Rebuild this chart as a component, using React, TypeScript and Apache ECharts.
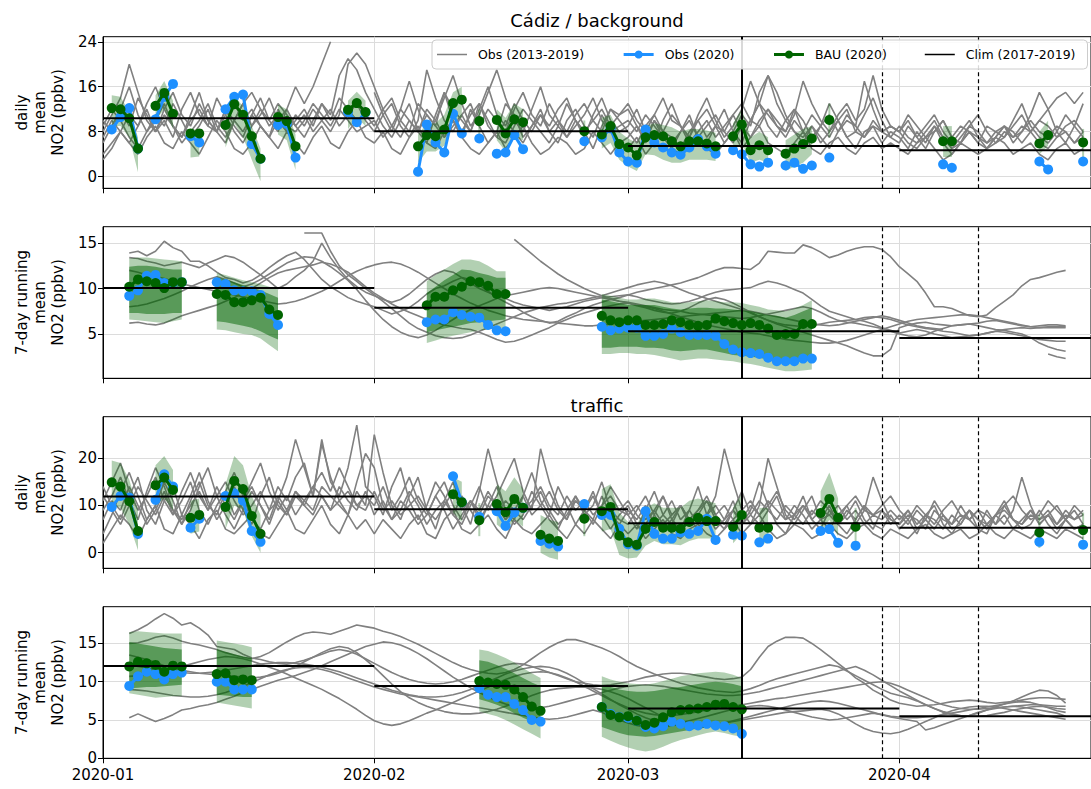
import React, { useEffect, useRef } from 'react';
import * as echarts from 'echarts';

type V = number | null;
const N = 113;
const X_MAX = 112.9;
const MONTH_STARTS = [0, 31, 60, 91];
const MONTH_LABELS = ['2020-01', '2020-02', '2020-03', '2020-04'];
const EVENT_DAYS = [73, 89, 100];

function seg(parts: [number, V[]][]): V[] {
  const a: V[] = new Array(N).fill(null);
  for (const [s, vals] of parts) vals.forEach((v, k) => { if (s + k < N) a[s + k] = v; });
  return a;
}
const n = null;

// ---------- Panel 1: daily, background ----------
const clim1 = [10.4, 8.1, 5.45, 4.7];
const obs1 = seg([
  [1, [8.4, 10.6, 12.2, 5.0]], [6, [10.2, 14.2, 16.5]], [10, [7.2, 6.1]],
  [14, [12.0, 14.2, 14.6, 5.8, 3.2]], [20, [9.2, 9.4, 3.4]], [28, [11.5, 9.7, 11.4]],
  [36, [0.9, 9.3, 6.1, 4.3, 11.2, 7.7]], [43, [6.8]], [45, [4.1, 4.3, 7.4, 4.9]], [55, [6.3]],
  [57, [7.0, 8.6, 4.3, 2.7, 2.5, 8.4, 6.1, 5.2, 4.3, 3.9, 5.2, 6.7, 5.4, 4.1]],
  [72, [4.7, 4.0, 2.2, 1.8, 2.5]], [78, [2.0, 2.5, 1.4, 2.0]], [83, [3.4]],
  [96, [2.2, 1.6]], [107, [2.7, 1.3]], [112, [2.7]],
]);
const bau1 = seg([
  [1, [12.2, 12.0, 10.4, 5.0]], [6, [12.6, 14.9, 11.2]], [10, [7.7, 7.7]],
  [14, [9.2, 12.9, 11.0, 7.2, 3.2]], [20, [10.6, 9.9, 5.4]], [28, [11.9, 13.1, 11.5]],
  [36, [5.4, 7.4, 7.2, 8.4, 13.1, 13.7]], [43, [9.9]], [45, [10.1, 7.7, 10.2, 9.7]], [55, [8.1]],
  [57, [7.5, 9.0, 5.8, 5.2, 3.8, 7.0, 7.4, 7.2, 6.3, 5.4, 6.3, 6.3, 5.9, 5.4]],
  [72, [7.2, 9.3, 4.7, 5.6, 4.7]], [78, [4.1, 5.0, 5.8, 6.8]], [83, [10.1]],
  [96, [6.3, 6.3]], [107, [5.9, 7.4]], [112, [6.1]],
]);
const lo1 = seg([
  [1, [9.0, 9.0, 7.0, 0.8]], [6, [10.0, 12.0, 8.5]], [10, [3.4, 3.6]],
  [14, [5.2, 9.5, 7.0, 3.0, -0.8]], [20, [7.5, 6.5, 1.2]], [28, [8.5, 10.5, 9.0]],
  [36, [2.5, 4.5, 4.5, 5.5, 10.0, 10.5]], [43, [7.5]], [45, [6.5, 4.5, 7.0, 6.5]], [55, [6.0]],
  [57, [5.0, 6.0, 3.0, 1.8, 1.0, 4.0, 3.8, 3.0, 2.5, 2.5, 3.0, 3.0, 3.0, 2.8]],
  [72, [4.5, 6.0, 2.5, 3.0, 2.5]], [78, [1.0, 1.8, 2.5, 4.0]], [83, [7.0]],
  [96, [3.5, 3.5]], [107, [4.0, 5.5]], [112, [3.5]],
]);
const hi1 = seg([
  [1, [14.5, 14.2, 11.5, 7.0]], [6, [14.5, 17.0, 13.5]], [10, [8.5, 8.3]],
  [14, [10.4, 14.5, 12.5, 9.0, 5.0]], [20, [12.8, 12.0, 7.5]], [28, [13.5, 15.1, 13.5]],
  [36, [7.5, 9.5, 9.5, 11.0, 15.0, 16.0]], [43, [12.0]], [45, [12.0, 10.5, 13.0, 12.0]], [55, [10.0]],
  [57, [10.5, 11.0, 8.0, 6.8, 6.0, 9.0, 9.5, 9.2, 8.8, 8.0, 8.5, 8.5, 8.2, 7.8]],
  [72, [9.5, 12.0, 7.0, 8.0, 7.0]], [78, [6.5, 7.5, 8.5, 9.0]], [83, [13.0]],
  [96, [9.0, 9.0]], [107, [8.0, 10.0]], [112, [8.5]],
]);
const g1a = seg([
  [0, [6, 9, 12, 16, 11, 8, 10, 13, 9, 7, 11, 15, 10, 8, 12, 9, 7, 11, 14, 10, 8, 12, 16, 13, 16, 20, 24, n, n, n, n]],
  [31, [15, 11, 8, 12, 17, 12, 8, 10, 14, 18, 13, 9, 11, 15, 19, 14, 10, 8, 12, 16, 11, 9, 13, 10, 7, 11, 14, 10, 8]],
  [60, [9, 12, 8, 6, 10, 13, 9, 7, 11, 14, 10, 7, 9, 12, 17, 13, 9, 7, 10, 12, 8, 6, 9, 13, 10, 7, 8, 11, 14, 10, 7]],
  [91, [6, 9, 7, 5, 8, 10, 7, 6, 9, 11, 8, 6, 7, 10, 13, 9, 7, 6, 8, 11, 9, 7]],
]);
const g1b = seg([
  [0, [4, 6, 8, 11, 9, 13, 16, 12, 9, 7, 10, 12, 9, 14, 11, 8, 6, 9, 12, 10, 13, 11, 9, 7, 10, 13, 11, 18, 21, 19, 15]],
  [31, [12, 9, 7, 10, 13, 8, 6, 11, 15, 10, 7, 12, 9, 6, 8, 13, 11, 7, 9, 12, 8, 6, 10, 12, 9, 7, 11, 8, 6]],
  [60, [7, 9, 6, 10, 7, 5, 8, 11, 7, 6, 9, 12, 8, 6, 10, 13, 18, 15, 11, 8, 7, 9, 6, 8, 10, 7, 5, 8, 9, 6, 8]],
  [91, [7, 5, 8, 6, 9, 7, 5, 6, 8, 6, 5, 7, 9, 6, 8, 11, 15, 12, 8, 6, 9, 13]],
]);
const g1c = seg([
  [0, [9, 12, 10, 7, 5, 8, 11, 9, 13, 10, 7, 9, 12, 8, 6, 10, 13, 9, 11, 14, 10, 8, 11, 9, 12, 10, 8, 11, 20, 22, 20]],
  [31, [16, 12, 9, 7, 10, 8, 12, 10, 7, 9, 11, 8, 13, 10, 7, 6, 9, 12, 10, 8, 6, 9, 7, 10, 8, 5, 9, 12, 10]],
  [60, [8, 6, 9, 11, 8, 7, 5, 8, 10, 7, 9, 6, 8, 11, 9, 15, 18, 13, 10, 8, 6, 9, 7, 5, 8, 11, 9, 17, 12, 8, 9]],
  [91, [8, 6, 5, 7, 9, 6, 4, 6, 8, 7, 5, 6, 8, 7, 9, 8, 6, 5, 7, 9, 10, 8]],
]);
const g1d = seg([
  [0, [3, 5, 8, 6, 4, 7, 9, 6, 5, 8, 6, 4, 7, 10, 8, 5, 4, 6, 9, 7, 5, 8, 6, 4, 7, 9, 6, 5, 8, 10, 7]],
  [31, [6, 8, 5, 4, 7, 9, 6, 5, 8, 10, 7, 5, 4, 6, 8, 5, 7, 9, 6, 4, 5, 7, 6, 4, 5, 8, 6, 4, 6]],
  [60, [5, 7, 4, 6, 8, 5, 4, 6, 7, 5, 4, 6, 8, 5, 7, 9, 6, 5, 4, 6, 8, 5, 4, 6, 7, 5, 4, 6, 7, 5, 6]],
  [91, [5, 4, 6, 7, 5, 3, 4, 6, 5, 4, 5, 7, 6, 4, 5, 6, 4, 3, 5, 6, 4, 5]],
]);
const g1e = seg([
  [0, [8, 11, 14, 20, 15, 10, 8, 12, 15, 11, 9, 13, 10, 8, 11, 13, 10, 12, 9, 7, 10, 12, 9, 11, 8, 10, 12, 9, 11, 13, 10]],
  [31, [8, 11, 13, 9, 7, 10, 19, 14, 10, 8, 11, 13, 9, 12, 10, 8, 12, 15, 11, 9, 13, 10, 8, 11, 13, 10, 8, 12, 11]],
  [60, [13, 10, 8, 11, 14, 10, 9, 7, 10, 12, 9, 8, 11, 13, 10, 9, 12, 10, 8, 11, 17, 13, 10, 8, 11, 13, 10, 12, 18, 12, 9]],
  [91, [8, 10, 7, 9, 11, 8, 6, 8, 10, 7, 6, 8, 9, 7, 8, 10, 8, 7, 9, 8, 6, 7]],
]);
const g1f = seg([
  [0, [7, 10, 8, 6, 9, 12, 8, 11, 9, 6, 8, 10, 13, 9, 7, 10, 8, 11, 9, 7, 12, 9, 8, 10, 13, 11, 9, 12, 10, 8, 9]],
  [31, [10, 7, 9, 12, 10, 8, 11, 9, 7, 10, 8, 11, 13, 9, 7, 10, 8, 6, 9, 11, 8, 10, 7, 9, 11, 14, 10, 8, 9]],
  [60, [10, 8, 11, 9, 7, 6, 8, 10, 7, 9, 11, 8, 6, 9, 7, 10, 12, 9, 7, 10, 8, 11, 9, 7, 10, 12, 8, 7, 9, 8, 7]],
  [91, [9, 7, 6, 8, 10, 7, 5, 7, 9, 8, 6, 7, 9, 8, 6, 8, 10, 9, 7, 8, 6, 8]],
]);
const g1g = seg([
  [0, [10, 8, 12, 9, 14, 11, 8, 10, 7, 12, 15, 11, 9, 8, 12, 10, 13, 15, 12, 9, 11, 8, 10, 12, 9, 13, 10, 14, 12, 10, 11]],
  [31, [9, 12, 14, 10, 8, 13, 11, 9, 15, 12, 10, 8, 12, 16, 11, 9, 13, 10, 8, 11, 9, 12, 14, 10, 8, 10, 12, 9, 11]],
  [60, [12, 9, 7, 10, 8, 11, 9, 6, 8, 10, 7, 9, 11, 8, 10, 13, 11, 9, 8, 12, 10, 7, 9, 11, 8, 10, 9, 7, 10, 8, 9]],
  [91, [8, 11, 9, 7, 8, 10, 7, 9, 8, 6, 9, 8, 7, 9, 11, 8, 10, 12, 14, 15, 13, 15]],
]);

// ---------- Panel 2: 7-day running mean, background ----------
const clim2 = [10.05, 7.9, 5.3, 4.56];
const obs2 = seg([
  [3, [9.2, 9.8, 11.4, 11.5, 10.6, 10.6, 10.7]],
  [13, [10.7, 10.5, 9.8, 9.7, 9.7, 9.3, 7.2, 6.0]],
  [37, [6.3, 6.6, 6.6, 7.4, 7.1, 6.9, 6.8, 6.0, 5.4, 5.3]],
  [57, [5.8, 5.4, 5.6, 5.7, 5.7, 4.8, 4.8, 5.0, 5.6, 5.2, 4.9, 4.9, 4.9, 4.8, 3.9, 3.3, 3.0, 2.9, 2.8, 2.4, 2.0, 2.0, 2.0, 2.3, 2.3]],
]);
const bau2 = seg([
  [3, [10.2, 11.0, 10.8, 10.6, 10.05, 10.7, 10.7]],
  [13, [9.4, 9.3, 8.5, 8.5, 8.7, 9.0, 7.7, 7.1]],
  [37, [8.15, 9.1, 9.1, 9.8, 10.2, 10.8, 10.7, 10.3, 9.4, 9.4]],
  [57, [7.0, 6.5, 6.3, 6.5, 6.5, 6.0, 6.0, 6.1, 6.5, 6.3, 6.0, 5.9, 6.0, 6.7, 6.4, 6.2, 6.0, 6.2, 6.0, 5.6, 4.9, 5.0, 5.0, 6.1, 6.1]],
]);
const lo2Outer = seg([
  [3, [6.6, 6.5, 6.4, 6.3, 6.2, 6.4, 6.6]],
  [13, [5.5, 5.4, 5.2, 5.0, 4.9, 4.5, 3.8, 3.1]],
  [37, [4.0, 4.3, 4.6, 4.8, 5.0, 5.2, 5.4, 5.5, 5.6, 5.7]],
  [57, [2.8, 2.8, 2.9, 2.9, 2.8, 2.8, 2.7, 2.5, 2.3, 2.1, 2.2, 2.3, 2.3, 2.2, 2.1, 2.0, 1.8, 1.7, 1.5, 1.3, 1.1, 0.9, 0.9, 1.0, 1.1]],
]);
const hi2Outer = seg([
  [3, [13.3, 13.4, 13.4, 13.3, 13.2, 13.1, 13.0]],
  [13, [11.7, 11.5, 11.2, 10.9, 10.7, 10.5, 10.2, 9.9]],
  [37, [10.8, 11.5, 12.1, 12.7, 13.2, 13.2, 13.0, 12.5, 11.9, 11.9]],
  [57, [9.4, 9.2, 9.0, 8.8, 8.8, 8.9, 8.9, 8.7, 8.5, 8.4, 8.5, 8.6, 8.7, 8.6, 8.5, 8.5, 8.4, 8.2, 8.0, 7.7, 7.6, 7.5, 7.8, 8.2, 8.7]],
]);
const lo2Inner = seg([
  [3, [7.3, 7.3, 7.2, 7.2, 7.2, 7.3, 7.3]],
  [13, [6.4, 6.3, 6.1, 5.9, 5.7, 5.3, 4.8, 4.4]],
  [37, [5.2, 5.4, 5.6, 5.8, 6.0, 6.2, 6.3, 6.4, 6.5, 6.6]],
  [57, [3.5, 3.5, 3.6, 3.6, 3.6, 3.5, 3.5, 3.4, 3.2, 3.1, 3.2, 3.3, 3.3, 3.1, 2.9, 2.7, 2.6, 2.5, 2.4, 2.2, 2.0, 1.8, 1.9, 2.0, 2.2]],
]);
const hi2Inner = seg([
  [3, [12.4, 12.5, 12.5, 12.4, 12.2, 12.1, 12.1]],
  [13, [11.2, 11.0, 10.7, 10.4, 10.1, 9.8, 9.4, 9.0]],
  [37, [9.5, 10.2, 10.9, 11.5, 12.1, 12.0, 11.7, 11.5, 11.2, 11.2]],
  [57, [8.8, 8.6, 8.4, 8.2, 8.2, 8.2, 8.2, 8.0, 7.8, 7.7, 7.8, 7.9, 7.9, 7.8, 7.8, 7.7, 7.6, 7.5, 7.3, 7.1, 7.0, 6.8, 7.1, 7.5, 7.9]],
]);
const g2a = seg([
  [3, [13.9, 14.1, 13.6, 14.1, 15.2, 14.5, 14.1, 13.0, 13.0, 12.5, 11.8, 11.2, 11.0, 10.6, 10.9, 11.5, 12.3, 13.0, 13.6, 14.0, 13.2, 12.1, 11.0, 10.2, 9.6, 9.0, 8.6, 8.3]],
  [31, [8.0, 7.6, 7.2, 7.5, 7.9, 8.6, 9.4, 10.0, 10.3, 10.8, 11.2, 11.0, 10.4, 9.7, 9.0, 8.5, 8.0, 7.4, 6.9, 6.5, 6.2, 6.4, 6.9, 7.3, 7.8, 8.2, 8.5, 8.8, 9.0]],
  [60, [9.3, 9.6, 9.8, 10.0, 10.2, 10.4, 10.6, 10.9, 11.2, 11.6, 12.0, 12.3, 12.3, 12.2, 12.1, 12.8, 14.1, 14.0, 13.9, 13.9, 14.8, 14.5, 14.0, 13.4, 13.7, 14.1, 14.4, 14.6, 14.6, 14.3, 13.5]],
  [91, [12.4, 11.6, 10.8, 9.5, 8.0, 8.0, 7.8, 7.4, 7.0, 6.9, 7.1, 7.9, 8.6, 9.3, 10.3, 11.0, 11.2, 11.5, 11.8, 12.0]],
]);
const g2b = seg([
  [3, [13.4, 13.3, 13.0, 12.8, 12.5, 12.7, 12.9, 12.6, 12.3, 12.8, 13.2, 13.6, 13.4, 12.9, 12.2, 11.5, 10.8, 10.0, 10.5, 11.3, 12.0, 13.0, 15.0, 13.4, 12.1, 11.0, 10.2, 9.6]],
  [31, [9.2, 8.8, 8.5, 8.8, 9.4, 10.2, 11.0, 11.6, 12.0, 11.8, 11.2, 10.6, 10.0, 9.6, 9.2, 8.9, 8.5, 8.2, 8.0, 7.8, 7.6, 7.8, 8.0, 8.3, 8.6, 8.8, 9.0, 9.1, 9.2]],
  [60, [9.3, 9.1, 8.8, 8.6, 8.4, 8.3, 8.4, 8.6, 8.9, 9.3, 9.6, 9.8, 9.9, 10.0, 10.1, 10.5, 10.8, 10.6, 10.3, 9.9, 9.5, 8.8, 8.1, 7.5, 7.2, 6.9, 6.6, 6.4, 6.1, 5.7, 5.4]],
  [91, [5.1, 5.3, 5.5, 5.3, 5.0, 4.8, 4.6, 4.7, 4.8, 4.9, 5.1, 5.3, 5.5, 5.6, 5.7, 5.6, 5.7, 5.8, 5.8, 5.8]],
]);
const g2c = seg([
  [3, [6.2, 6.3, 6.1, 6.0, 6.2, 6.6, 7.0, 7.3, 7.6, 7.9, 8.2, 8.6, 9.0, 9.5, 10.0, 10.6, 11.2, 11.7, 12.0, 12.2, 12.4, 12.6, 12.9, 12.7, 12.3, 11.8, 11.0, 10.2]],
  [31, [9.5, 8.9, 8.3, 7.8, 7.4, 7.0, 6.6, 6.3, 6.0, 5.8, 5.6, 5.5, 5.2, 4.8, 4.4, 4.1, 4.2, 4.5, 4.9, 5.3, 5.7, 6.2, 6.6, 7.0, 7.3, 7.6, 7.9, 8.1, 8.3]],
  [60, [8.4, 8.1, 7.9, 7.6, 7.4, 7.3, 7.5, 7.9, 8.4, 8.8, 9.0, 8.8, 8.4, 7.9, 7.4, 6.9, 6.5, 6.2, 6.0, 5.9, 5.8, 5.9, 6.1, 6.3, 6.4, 6.5, 6.6, 6.8, 6.9, 6.8, 6.6]],
  [91, [6.3, 6.0, 5.8, 5.6, 5.5, 5.3, 5.2, 5.0, 4.8, 4.9, 5.1, 5.3, 5.2, 5.0, 4.8, 4.6, 4.4, 4.3, 4.2, 4.2]],
]);
const g2d = seg([
  [3, [8.0, 8.1, 8.3, 8.6, 8.9, 9.3, 9.7, 10.2, 10.6, 11.0, 11.3, 11.0, 10.6, 10.2, 10.5, 11.0, 11.6, 12.2, 12.8, 13.2, 13.5, 13.4, 13.0, 12.4, 11.7, 10.9, 9.9, 8.7]],
  [31, [7.6, 6.6, 5.8, 5.2, 4.8, 4.6, 4.9, 5.4, 6.0, 6.6, 7.2, 7.7, 8.1, 8.5, 8.9, 9.2, 9.4, 9.6, 9.8, 10.0, 10.1, 10.0, 9.8, 9.6, 9.4, 9.2, 9.0, 8.8, 8.6]],
  [60, [8.5, 8.3, 8.1, 7.9, 7.7, 7.6, 7.5, 7.3, 7.2, 7.1, 7.0, 6.9, 6.8, 6.7, 6.8, 7.0, 7.2, 7.4, 7.6, 7.8, 8.0, 7.8, 7.4, 6.9, 6.5, 6.3, 6.2, 6.0, 5.8, 5.6, 5.3]],
  [91, [5.0, 4.8, 4.7, 4.9, 5.3, 5.6, 5.9, 6.0, 6.1, 5.9, 5.7, 5.5, 5.4, 5.2, 5.0, 4.6, 4.0, 3.6, 3.3, 3.1]],
]);
const g2e = seg([
  [23, [16.1, 16.1, 16.1, 14.1, 12.5, 11.5, 10.8, 10.0]],
  [31, [9.3, 8.6, 7.8, 7.0, 6.2, 5.6, 5.2, 4.8, 4.6, 4.5, 4.6, 4.9, 5.3, 5.7, 6.1, 6.5, 6.9, 7.3, 7.6, 7.9, 8.1, 8.3, 8.4, 8.6, 8.8, 9.0, 9.2, 9.5, 9.8]],
  [60, [10.1, 10.4, 10.6, 10.8, 10.6, 10.3, 9.9, 9.5, 9.2, 8.9, 8.6, 8.3, 8.0, 7.7, 7.3, 6.9, 6.5, 6.1, 5.8, 5.5, 5.2, 4.9, 4.6, 4.3, 4.0, 3.7, 3.3, 2.9, 2.6, 2.6, 3.3]],
  [91, [5.7, 6.0, 6.2, 6.3, 6.1, 6.0, 5.9, 6.0, 6.1, 6.2, 6.4, 6.5, 6.3, 6.1, 5.9, 5.8, 5.9, 6.0, 6.0, 5.9]],
]);
const g2f = seg([
  [47, [15.4, 14.6, 13.8, 13.0, 12.3, 11.6, 11.0, 10.5, 10.0, 9.6, 9.2, 8.9, 8.6]],
  [60, [8.4, 8.2, 8.0, 7.8, 7.5, 7.2, 6.9, 6.6, 6.3, 6.0, 5.8, 5.6, 5.4, 5.2, 5.1, 5.0, 4.8, 4.6, 4.4, 4.3, 4.2, 4.1, 4.0, 4.0, 4.1, 4.3, 4.6, 4.9, 5.2, 5.5, 5.8]],
  [91, [6.1, 6.4, 6.6, 6.7, 6.8, 6.9, 7.0, 7.1, 7.1, 7.0, 6.8, 6.6, 6.4, 6.2, 6.0, 5.8, 5.7, 5.7, 5.7, 5.7]],
]);
const g2g = seg([
  [3, [12.0, 11.8, 11.5, 11.3, 11.1, 10.8, 10.5, 10.3, 10.1, 9.9, 9.7, 9.5, 9.3, 9.1, 8.9, 8.7, 8.5, 8.3, 8.4, 8.6, 8.9, 9.3, 9.7, 10.2, 10.8, 11.4, 11.9, 12.3]],
  [31, [12.6, 12.8, 12.9, 12.7, 12.3, 11.8, 11.2, 10.6, 10.0, 9.4, 8.9, 8.4, 8.0, 7.6, 7.3, 7.0, 6.8, 6.6, 6.5, 6.4, 6.3, 6.2, 6.1, 6.0, 5.9, 5.9, 6.0, 6.1, 6.2]],
  [60, [6.3, 6.4, 6.5, 6.6, 6.7, 6.8, 6.9, 7.0, 7.1, 7.2, 7.3, 7.4, 7.5, 7.6, 7.5, 7.3, 7.1, 6.9, 6.7, 6.5, 6.3, 6.1, 6.0, 5.9, 6.0, 6.2, 6.4, 6.6, 6.8, 7.0, 6.8]],
  [91, [6.5, 6.2, 5.9, 5.7, 5.6, 5.5]],
  [108, [2.8, 2.5, 2.3]],
]);

// ---------- Panel 3: daily, traffic ----------
const clim3 = [11.9, 9.2, 6.25, 5.3];
const obs3 = seg([
  [1, [9.7, 12.0, 11.7, 4.0]], [6, [11.2, 16.6, 14.0]], [10, [5.3, 7.2]],
  [14, [12.0, 12.6, 11.0, 4.6, 2.3]], [40, [16.2, 10.7]], [43, [7.6]],
  [45, [8.8, 5.7, 8.5, 9.5]], [50, [2.5, 1.9, 1.3]], [55, [10.3]],
  [57, [8.0, 8.0, 5.1, 1.8, 1.5, 8.8, 4.0, 3.0, 3.0, 4.3, 4.0, 4.6, 7.2, 2.7]],
  [72, [3.8, 3.6]], [75, [2.2, 3.0]], [82, [4.6, 5.0, 2.1]], [86, [1.5]], [107, [2.3]], [112, [1.7]],
]);
const bau3 = seg([
  [1, [14.9, 14.0, 10.9, 4.6]], [6, [14.3, 15.9, 13.3]], [10, [7.4, 8.0]],
  [14, [9.7, 15.2, 13.5, 7.8, 4.0]], [40, [12.4, 10.7]], [43, [6.9]],
  [45, [10.3, 8.6, 11.4, 9.5]], [50, [3.8, 3.0, 2.5]], [55, [7.2]],
  [57, [8.8, 9.7, 3.6, 2.2, 1.7, 5.1, 6.5, 5.3, 5.3, 5.1, 6.5, 7.4, 6.7, 6.7]],
  [72, [5.5, 8.0]], [75, [5.3, 5.3]], [82, [8.4, 11.4, 7.4]], [86, [5.5]], [107, [4.3]], [112, [4.8]],
]);
const lo3 = seg([
  [1, [10.0, 9.5, 6.0, 0.5]], [6, [10.0, 11.5, 9.0]], [10, [4.0, 4.5]],
  [14, [5.0, 10.0, 9.0, 3.5, 0.0]], [40, [8.5, 6.5]], [43, [3.5]],
  [45, [6.0, 4.5, 7.0, 5.5]], [50, [0.0, -1.0, -1.5]], [55, [3.5]],
  [57, [4.5, 5.0, -0.5, -1.2, -1.0, 1.5, 2.5, 1.8, 1.8, 1.6, 2.5, 3.0, 3.0, 3.0]],
  [72, [2.0, 4.0]], [75, [2.0, 2.0]], [82, [4.0, 7.0, 3.5]], [86, [2.0]], [107, [1.0]], [112, [1.5]],
]);
const hi3 = seg([
  [1, [19.5, 19.0, 15.5, 9.0]], [6, [18.5, 20.5, 17.5]], [10, [11.0, 11.5]],
  [14, [14.5, 20.5, 18.5, 12.0, 8.0]], [40, [16.0, 15.0]], [43, [10.5]],
  [45, [14.5, 13.0, 16.0, 13.5]], [50, [8.0, 7.0, 6.5]], [55, [11.0]],
  [57, [13.5, 14.5, 8.5, 6.5, 6.0, 9.5, 10.5, 9.5, 9.5, 9.5, 11.0, 11.5, 11.0, 10.5]],
  [72, [9.5, 12.5]], [75, [9.5, 9.5]], [82, [13.0, 17.0, 11.5]], [86, [9.5]], [107, [8.0]], [112, [8.5]],
]);
const g3a = seg([
  [0, [4, 8, 13, 17, 12, 7, 10, 15, 11, 6, 9, 14, 18, 12, 8, 5, 9, 13, 10, 6, 11, 16, 24, 18, 12, 23, 16, 11, 8, 13, 10]],
  [31, [25, 17, 10, 7, 12, 16, 9, 5, 11, 15, 10, 6, 13, 22, 15, 9, 7, 12, 17, 11, 8, 14, 10, 6, 9, 13, 8, 5, 8]],
  [60, [10, 6, 4, 8, 12, 7, 5, 9, 14, 8, 5, 7, 11, 6, 9, 15, 10, 6, 4, 8, 12, 7, 5, 9, 6, 4, 7, 10, 6, 5, 8]],
  [91, [5, 7, 4, 8, 10, 6, 4, 7, 9, 5, 4, 8, 11, 7, 5, 6, 9, 6, 4, 7, 5, 6]],
]);
const g3b = seg([
  [0, [9, 12, 16, 11, 7, 13, 18, 14, 9, 6, 11, 15, 10, 8, 13, 17, 12, 7, 5, 9, 14, 11, 16, 19, 12, 24, 15, 12, 18, 27, 14]],
  [31, [12, 8, 14, 18, 11, 7, 10, 15, 12, 8, 6, 10, 14, 9, 12, 16, 20, 13, 9, 22, 15, 10, 7, 12, 9, 6, 10, 14, 11]],
  [60, [8, 5, 9, 13, 8, 6, 10, 7, 5, 8, 12, 22, 15, 9, 6, 10, 20, 14, 8, 6, 9, 12, 7, 5, 8, 10, 6, 9, 16, 11, 7]],
  [91, [6, 9, 5, 7, 11, 8, 5, 6, 9, 7, 5, 8, 6, 9, 16, 10, 6, 8, 5, 7, 9, 6]],
]);
const g3c = seg([
  [0, [14, 10, 7, 12, 16, 9, 6, 11, 14, 8, 12, 17, 11, 7, 10, 14, 9, 6, 12, 16, 10, 8, 13, 11, 9, 14, 12, 10, 8, 15, 21]],
  [31, [18, 10, 7, 11, 9, 6, 8, 12, 9, 5, 8, 11, 7, 10, 14, 9, 6, 8, 13, 10, 7, 5, 9, 12, 8, 10, 15, 9, 7]],
  [60, [6, 9, 12, 8, 5, 7, 10, 6, 8, 11, 7, 5, 9, 13, 8, 6, 9, 12, 7, 10, 8, 5, 7, 10, 6, 8, 11, 7, 5, 9, 6]],
  [91, [8, 6, 9, 7, 5, 8, 6, 10, 7, 5, 9, 6, 8, 5, 7, 9, 6, 8, 10, 7, 5, 6]],
]);
const g3d = seg([
  [0, [2, 5, 8, 6, 3, 7, 10, 5, 4, 8, 6, 3, 7, 9, 5, 4, 6, 8, 4, 3, 6, 9, 5, 4, 7, 10, 6, 4, 8, 5, 7]],
  [31, [4, 7, 5, 3, 6, 8, 4, 3, 7, 9, 5, 4, 6, 8, 5, 3, 7, 5, 4, 6, 8, 5, 3, 6, 4, 7, 5, 3, 6]],
  [60, [4, 6, 3, 5, 7, 4, 3, 5, 6, 4, 3, 5, 7, 4, 6, 8, 5, 3, 4, 6, 5, 3, 4, 6, 4, 3, 5, 6, 4, 3, 5]],
  [91, [4, 3, 5, 6, 4, 3, 4, 5, 3, 4, 6, 4, 3, 5, 4, 3, 5, 4, 3, 5, 4, 3]],
]);
const g3e = seg([
  [0, [11, 15, 19, 13, 9, 12, 16, 11, 8, 13, 17, 12, 9, 14, 10, 7, 11, 15, 19, 13, 9, 12, 8, 11, 14, 17, 13, 18, 14, 10, 12]],
  [31, [10, 14, 9, 12, 16, 11, 8, 12, 15, 10, 7, 11, 9, 13, 10, 7, 12, 9, 11, 14, 10, 8, 12, 9, 11, 8, 10, 12, 9]],
  [60, [11, 8, 6, 9, 12, 8, 10, 7, 9, 12, 8, 10, 7, 9, 11, 8, 10, 13, 9, 7, 10, 8, 11, 9, 7, 10, 12, 9, 8, 10, 12]],
  [91, [9, 7, 10, 8, 6, 9, 11, 8, 7, 9, 8, 6, 10, 12, 9, 7, 8, 11, 9, 7, 10, 8]],
]);
const g3f = seg([
  [0, [7, 11, 9, 14, 10, 6, 9, 13, 8, 11, 15, 9, 6, 10, 13, 8, 11, 14, 10, 7, 12, 9, 13, 10, 8, 12, 9, 14, 11, 9, 13]],
  [31, [8, 11, 7, 9, 13, 10, 6, 9, 11, 8, 12, 9, 6, 10, 8, 11, 9, 7, 10, 13, 9, 6, 8, 11, 9, 7, 12, 8, 6]],
  [60, [9, 7, 10, 6, 8, 11, 7, 9, 6, 8, 10, 7, 9, 6, 8, 11, 9, 7, 10, 8, 6, 9, 7, 8, 10, 7, 9, 6, 8, 7, 9]],
  [91, [7, 9, 6, 8, 7, 5, 8, 6, 9, 7, 6, 8, 9, 7, 6, 8, 7, 9, 6, 8, 7, 9]],
]);
const g3g = seg([
  [0, [12, 9, 6, 10, 14, 11, 8, 12, 9, 7, 10, 13, 9, 12, 15, 11, 8, 10, 13, 9, 11, 8, 12, 10, 14, 12, 9, 11, 13, 10, 9]],
  [31, [13, 9, 11, 8, 10, 12, 9, 7, 10, 13, 9, 11, 8, 12, 10, 7, 9, 12, 8, 10, 13, 9, 7, 11, 9, 12, 8, 10, 9]],
  [60, [8, 10, 7, 9, 6, 8, 10, 7, 9, 11, 8, 6, 9, 7, 10, 8, 11, 9, 7, 8, 10, 7, 9, 8, 6, 9, 7, 10, 8, 9, 7]],
  [91, [6, 8, 7, 5, 9, 7, 6, 8, 7, 9, 6, 8, 10, 7, 6, 9, 7, 8, 6, 9, 7, 8]],
]);

// ---------- Panel 4: 7-day running mean, traffic ----------
const clim4 = [12.07, 9.45, 6.5, 5.5];
const obs4 = seg([
  [3, [9.45, 10.7, 11.3, 11.0, 10.3, 11.0, 11.2]],
  [13, [10.0, 10.0, 9.0, 9.0, 9.0]],
  [43, [9.15, 8.3, 8.0, 8.0, 7.1, 6.3, 5.0, 4.8]],
  [57, [6.7, 5.8, 5.4, 5.3, 4.9, 4.1, 3.9, 4.2, 4.8, 4.5, 4.2, 4.3, 4.5, 4.3, 4.2, 3.9, 3.2]],
]);
const bau4 = seg([
  [3, [12.0, 12.6, 12.4, 12.2, 11.3, 12.1, 12.0]],
  [13, [11.0, 11.1, 10.2, 10.3, 10.2]],
  [43, [10.1, 9.9, 9.7, 9.6, 9.0, 8.0, 6.75, 6.2]],
  [57, [6.7, 5.65, 5.35, 5.5, 4.9, 4.35, 4.65, 5.35, 6.0, 6.3, 6.4, 6.5, 6.7, 7.0, 7.1, 6.7, 6.4]],
]);
const lo4Outer = seg([
  [3, [8.5, 8.3, 8.1, 7.9, 8.0, 8.1, 8.1]],
  [13, [7.3, 7.1, 6.9, 6.7, 6.5]],
  [43, [6.1, 5.8, 5.5, 5.0, 4.4, 3.8, 3.2, 2.6]],
  [57, [2.8, 2.3, 1.8, 1.4, 1.1, 0.9, 1.1, 1.5, 2.0, 2.4, 2.7, 3.0, 3.3, 3.5, 3.3, 3.0, 2.8]],
]);
const hi4Outer = seg([
  [3, [16.5, 16.6, 16.5, 16.4, 16.3, 16.3, 16.3]],
  [13, [15.4, 15.2, 15.0, 14.8, 14.5]],
  [43, [14.2, 14.0, 13.6, 13.1, 12.5, 11.8, 11.1, 10.5]],
  [57, [10.7, 10.3, 10.0, 9.8, 9.7, 9.6, 9.8, 10.1, 10.4, 10.7, 10.9, 11.1, 11.2, 11.3, 11.2, 10.9, 10.5]],
]);
const lo4Inner = seg([
  [3, [9.15, 9.2, 9.3, 9.3, 9.4, 9.5, 9.6]],
  [13, [8.3, 8.2, 8.1, 8.0, 8.0]],
  [43, [7.7, 7.4, 7.0, 6.5, 5.9, 5.3, 4.8, 4.35]],
  [57, [4.1, 3.7, 3.3, 3.0, 2.9, 2.8, 2.9, 3.1, 3.3, 3.5, 3.7, 3.9, 4.1, 4.35, 4.2, 3.9, 3.5]],
]);
const hi4Inner = seg([
  [3, [15.2, 15.0, 14.8, 14.6, 14.4, 14.3, 14.2]],
  [13, [14.2, 13.9, 13.6, 13.3, 13.1]],
  [43, [12.8, 12.6, 12.2, 11.7, 11.1, 10.5, 9.9, 9.4]],
  [57, [9.6, 9.3, 9.0, 8.8, 8.7, 8.7, 8.8, 9.0, 9.2, 9.3, 9.5, 9.7, 9.9, 10.0, 9.9, 9.7, 9.4]],
]);
const g4a = seg([
  [3, [16.3, 16.8, 17.4, 18.2, 18.9, 18.3, 17.4, 17.7, 17.0, 16.1, 14.6, 14.4, 14.2, 13.6, 13.1, 12.9, 12.6, 12.4, 12.3, 12.5, 12.8, 13.2, 13.6, 14.0, 14.2, 14.0, 13.6, 13.0]],
  [31, [12.4, 11.8, 11.2, 10.7, 10.3, 10.0, 9.8, 9.7, 9.8, 10.0, 10.3, 10.7, 11.1, 11.5, 11.9, 12.2, 12.4, 12.3, 12.0, 11.6, 11.2, 10.8, 10.4, 10.0, 9.8, 9.6, 9.5, 9.6, 9.8]],
  [60, [10.0, 10.3, 10.6, 10.8, 11.0, 11.1, 11.1, 11.0, 10.8, 10.6, 10.4, 10.3, 10.4, 10.6, 11.6, 13.2, 14.6, 15.3, 15.8, 15.8, 15.7, 15.0, 14.2, 13.3, 12.4, 11.5, 10.5, 9.8, 8.9, 8.3, 7.6]],
  [91, [7.2, 7.0, 6.8, 6.9, 7.0, 7.2, 7.4, 7.5, 7.6, 7.5, 7.3, 7.2, 7.3, 7.4, 7.6, 7.8, 7.9, 7.9, 7.8, 7.7]],
]);
const g4b = seg([
  [3, [15.0, 15.1, 15.4, 15.8, 16.0, 15.7, 15.3, 15.0, 14.8, 14.5, 14.2, 13.8, 13.5, 13.2, 13.0, 13.3, 13.8, 14.5, 15.2, 15.8, 16.3, 16.5, 16.4, 16.2, 16.6, 17.0, 17.4, 17.2]],
  [31, [17.0, 16.6, 16.3, 15.9, 15.4, 14.9, 14.3, 13.7, 13.1, 12.5, 12.0, 11.6, 11.3, 11.1, 11.0, 11.2, 11.6, 12.2, 13.0, 13.8, 14.5, 15.1, 15.5, 15.5, 15.2, 14.8, 14.4, 13.9, 13.3]],
  [60, [12.6, 12.0, 11.5, 11.0, 10.6, 10.2, 9.8, 9.5, 9.2, 9.0, 8.8, 8.7, 8.6, 8.8, 9.1, 9.5, 10.0, 10.4, 10.7, 11.0, 11.3, 11.6, 11.9, 12.2, 12.0, 11.4, 10.8, 10.2, 9.6, 9.0, 8.5]],
  [91, [8.2, 7.9, 7.5, 7.0, 6.5, 6.0, 5.7, 5.5, 5.6, 5.9, 6.3, 6.7, 7.1, 7.5, 8.0, 8.5, 8.9, 8.8, 8.2, 7.2]],
]);
const g4c = seg([
  [3, [5.3, 5.8, 5.3, 4.8, 5.2, 5.7, 6.3, 6.5, 6.8, 7.0, 7.3, 7.7, 8.1, 8.6, 9.0, 9.4, 9.8, 10.2, 10.5, 10.8, 11.2, 11.6, 12.1, 12.6, 13.1, 13.6, 14.1, 14.6]],
  [31, [14.9, 15.2, 15.1, 14.8, 14.3, 13.7, 13.0, 12.2, 11.4, 10.6, 9.9, 9.2, 8.6, 8.0, 7.5, 7.1, 6.8, 6.6, 6.5, 6.6, 6.8, 7.1, 7.4, 7.7, 8.0, 8.3, 8.6, 8.9, 9.2]],
  [60, [9.4, 9.5, 9.6, 9.5, 9.4, 9.2, 9.0, 8.8, 8.6, 8.4, 8.3, 8.2, 8.2, 8.3, 8.5, 8.7, 9.0, 9.3, 9.6, 9.9, 10.2, 10.5, 10.8, 11.1, 11.4, 11.7, 12.0, 11.5, 10.9, 10.2, 9.5]],
  [91, [8.8, 8.2, 7.6, 7.0, 6.5, 6.1, 5.8, 5.6, 5.5, 5.5, 5.6, 5.8, 6.0, 6.3, 6.5, 6.7, 6.8, 6.7, 6.5, 6.4]],
]);
const g4d = seg([
  [3, [10.7, 10.8, 11.0, 11.2, 11.5, 11.8, 12.0, 12.3, 12.6, 12.9, 13.1, 13.3, 13.2, 13.0, 12.7, 12.3, 11.9, 11.5, 11.0, 10.5, 10.0, 9.5, 9.0, 8.4, 7.8, 7.1, 6.4, 5.6]],
  [31, [4.9, 4.5, 4.3, 4.5, 4.9, 5.4, 5.9, 6.3, 6.8, 7.3, 7.8, 8.3, 8.8, 9.3, 9.8, 10.3, 10.7, 11.0, 11.2, 11.3, 11.2, 10.9, 10.5, 10.0, 9.4, 8.8, 8.2, 7.6, 7.1]],
  [60, [6.6, 6.2, 5.9, 5.7, 5.6, 5.6, 5.7, 5.9, 6.1, 6.3, 6.5, 6.7, 6.8, 7.0, 7.2, 7.4, 7.6, 7.8, 7.9, 8.1, 8.3, 8.5, 8.7, 8.9, 9.1, 9.3, 9.5, 9.7, 9.9, 10.0, 9.8]],
  [91, [9.4, 8.9, 8.4, 7.9, 7.4, 7.0, 6.7, 6.5, 6.4, 6.4, 6.5, 6.6, 6.7, 6.8, 6.7, 6.5, 6.3, 6.1, 5.9, 5.5]],
]);
const g4e = seg([
  [3, [9.0, 8.9, 8.8, 8.6, 8.4, 8.2, 8.1, 8.0, 8.0, 8.1, 8.3, 8.6, 9.0, 9.4, 9.9, 10.4, 10.9, 11.3, 11.6, 11.8, 11.9, 11.8, 11.6, 11.3, 10.9, 10.5, 10.1, 9.7]],
  [31, [9.3, 9.0, 8.7, 8.4, 8.2, 8.0, 7.8, 7.6, 7.4, 7.2, 7.0, 6.8, 6.6, 6.4, 6.2, 6.0, 5.8, 5.6, 5.4, 5.2, 5.1, 5.2, 5.4, 5.7, 6.0, 6.3, 6.0, 5.5, 5.0]],
  [60, [4.6, 4.3, 4.1, 4.0, 4.1, 4.3, 4.6, 4.9, 5.2, 5.5, 5.8, 6.1, 6.4, 6.6, 6.8, 6.9, 6.8, 6.6, 6.3, 6.0, 5.7, 5.4, 5.2, 5.0, 5.1, 5.3, 5.5, 5.7, 5.9, 5.7, 5.4]],
  [91, [5.2, 5.0, 4.8, 3.7, 4.0, 4.4, 4.8, 5.2, 5.6, 6.0, 6.3, 6.5, 6.7, 6.8, 6.9, 7.0, 7.0, 6.9, 6.8, 6.8]],
]);
const g4f = seg([
  [3, [13.5, 13.2, 12.9, 12.5, 12.1, 11.8, 11.5, 11.3, 11.1, 11.0, 10.9, 10.8, 10.7, 10.6, 10.5, 10.6, 10.8, 11.1, 11.5, 12.0, 12.6, 13.2, 13.8, 14.3, 14.6, 14.4, 13.8, 12.9]],
  [31, [11.9, 10.8, 9.7, 8.7, 7.9, 7.3, 6.8, 6.4, 6.1, 5.9, 5.8, 5.8, 5.9, 6.1, 6.4, 6.8, 7.2, 7.7, 8.2, 8.6, 8.9, 9.1, 9.2, 9.3, 9.3, 9.2, 9.0, 8.7, 8.3]],
  [60, [7.8, 7.2, 6.6, 6.0, 5.4, 4.8, 4.35, 4.1, 4.0, 4.1, 4.3, 4.6, 4.9, 5.2, 5.5, 5.8, 6.1, 6.4, 6.7, 7.0, 7.2, 7.4, 7.5, 7.4, 7.2, 6.9, 6.6, 6.3, 6.0, 5.7, 5.5]],
  [91, [5.4, 5.3, 5.3, 5.4, 5.5, 5.7, 5.9, 6.1, 6.3, 6.5, 6.7, 6.9, 7.1, 7.3, 7.4, 7.3, 7.0, 6.6, 6.2, 6.0]],
]);
const g4g = seg([
  [3, [12.2, 12.0, 11.8, 11.6, 11.4, 11.3, 11.2, 11.1, 11.1, 11.2, 11.3, 11.5, 11.7, 11.9, 12.1, 12.3, 12.4, 12.5, 12.5, 12.4, 12.3, 12.1, 11.9, 11.6, 11.3, 10.9, 10.5, 10.1]],
  [31, [9.7, 9.3, 8.9, 8.6, 8.3, 8.1, 8.0, 8.0, 8.1, 8.3, 8.6, 9.0, 9.5, 10.0, 10.5, 11.0, 11.4, 11.7, 11.9, 12.0, 11.9, 11.6, 11.1, 10.5, 9.8, 9.1, 8.4, 7.7, 7.0]],
  [60, [6.4, 5.8, 5.3, 4.9, 4.6, 4.4, 4.3, 4.2, 4.2, 4.3, 4.4, 4.6, 4.8, 5.0, 5.2, 5.4, 5.6, 5.8, 6.0, 6.1, 6.2, 6.3, 6.4, 6.2, 5.8, 5.2, 4.5, 3.9, 3.5, 3.3, 3.2]],
  [91, [3.4, 3.8, 4.3, 4.8, 5.3, 5.8, 6.2, 6.5, 6.7, 6.8, 6.8, 6.7, 6.5, 6.3, 6.1, 5.9, 5.7, 5.5, 5.3, 5.1]],
]);

const Y_TICKS = [[0, 8, 16, 24], [5, 10, 15], [0, 10, 20], [0, 5, 10, 15]];
const Y_RANGE: [number, number][] = [[-2.06, 24.9], [0.13, 16.8], [-3.3, 28.8], [0, 19.8]];
const Y_NAMES = ['daily\nmean\nNO2 (ppbv)', '7-day running\nmean\nNO2 (ppbv)', 'daily\nmean\nNO2 (ppbv)', '7-day running\nmean\nNO2 (ppbv)'];
const LEGEND_NAMES = ['Obs (2013-2019)', 'Obs (2020)', 'BAU (2020)', 'Clim (2017-2019)'];

const GRAY = '#808080';
const BLUE = '#1e90ff';
const GREEN = '#006400';
const LIGHT_BAND = 'rgba(0,100,0,0.3)';
const DARK_BAND = 'rgba(0,100,0,0.5)';
const FONT = 'DejaVu Sans';
// plain line legend icon (tiny invisible specks keep the 30x10 box so the bar is not stretched)
const LINE_ICON = 'path://M0,0h0.01v0.01h-0.01z M0,4.2h30v1.6h-30z M0,9.99h0.01v0.01h-0.01z';

const PANELS = [
  { gray: [g1a, g1b, g1c, g1d, g1e, g1f, g1g], obs: obs1, bau: bau1, bands: [[lo1, hi1, LIGHT_BAND]], clim: clim1 },
  { gray: [g2a, g2b, g2c, g2d, g2e, g2f, g2g], obs: obs2, bau: bau2, bands: [[lo2Outer, hi2Outer, LIGHT_BAND], [lo2Inner, hi2Inner, DARK_BAND]], clim: clim2 },
  { gray: [g3a, g3b, g3c, g3d, g3e, g3f, g3g], obs: obs3, bau: bau3, bands: [[lo3, hi3, LIGHT_BAND]], clim: clim3 },
  { gray: [g4a, g4b, g4c, g4d, g4e, g4f, g4g], obs: obs4, bau: bau4, bands: [[lo4Outer, hi4Outer, LIGHT_BAND], [lo4Inner, hi4Inner, DARK_BAND]], clim: clim4 },
];

function toData(arr: V[]) {
  return arr.map((v, i) => [i, v == null ? '-' : v]);
}

function bandSeries(lo: V[], hi: V[], color: string, p: number) {
  const data: number[][] = [];
  for (let i = 0; i < N; i++) if (lo[i] != null && hi[i] != null) data.push([i, lo[i] as number, hi[i] as number]);
  return {
    type: 'custom', xAxisIndex: p, yAxisIndex: p, z: 3, silent: true,
    data, encode: { x: 0, y: [1, 2] },
    renderItem: (params: any, api: any) => {
      const i = api.value(0);
      if (i > 0 && lo[i - 1] != null) return null;
      const top: number[][] = [];
      const bot: number[][] = [];
      let j = i;
      while (j < N && lo[j] != null) {
        top.push(api.coord([j, hi[j]]));
        bot.push(api.coord([j, lo[j]]));
        j++;
      }
      if (top.length === 1) {
        const x = top[0][0];
        return { type: 'rect', shape: { x: x - 1, y: top[0][1], width: 2, height: bot[0][1] - top[0][1] }, style: { fill: color } };
      }
      return { type: 'polygon', shape: { points: top.concat(bot.reverse()) }, style: { fill: color } };
    },
  };
}

function climData(c: number[]) {
  const out: any[] = [];
  c.forEach((v, k) => {
    const s = MONTH_STARTS[k];
    const e = k < 3 ? MONTH_STARTS[k + 1] : N;
    if (k > 0) out.push([s, '-']);
    out.push([s, v], [e, v]);
  });
  return out;
}

const GRID_TOPS = [36.7, 226.7, 416.7, 606.7];
const GRID_H = 151.6;

function buildOption() {
  const grid = GRID_TOPS.map((t) => ({ left: 103, top: t, width: 990, height: GRID_H, show: true, borderColor: '#000', borderWidth: 1, backgroundColor: 'transparent' }));
  const xAxis = PANELS.map((_, p) => ({
    type: 'value', gridIndex: p, min: 0, max: X_MAX,
    axisLine: { show: true, onZero: false, lineStyle: { color: '#000', width: 1 } },
    axisTick: { show: true, customValues: MONTH_STARTS, length: 5, lineStyle: { color: '#000' } },
    axisLabel: { show: p === 3, customValues: MONTH_STARTS, color: '#000', fontSize: 15, fontFamily: FONT, margin: 9,
      formatter: (v: number) => MONTH_LABELS[MONTH_STARTS.indexOf(Math.round(v))] ?? '' },
    splitLine: { show: true, lineStyle: { color: '#dcdcdc', width: 1 } },
  }));
  const yAxis = PANELS.map((_, p) => ({
    type: 'value', gridIndex: p, min: Y_RANGE[p][0], max: Y_RANGE[p][1],
    axisLine: { show: true, onZero: false, lineStyle: { color: '#000', width: 1 } },
    axisTick: { show: true, customValues: Y_TICKS[p], length: 5, lineStyle: { color: '#000' } },
    axisLabel: { customValues: Y_TICKS[p], color: '#000', fontSize: 15, fontFamily: FONT, margin: 6 },
    splitLine: { show: true, lineStyle: { color: '#dcdcdc', width: 1 } },
  }));
  const series: any[] = [];
  PANELS.forEach((P, p) => {
    P.gray.forEach((g) => series.push({
      type: 'line', name: LEGEND_NAMES[0], xAxisIndex: p, yAxisIndex: p, data: toData(g),
      symbol: 'none', lineStyle: { color: GRAY, width: 1.6 }, itemStyle: { color: GRAY }, z: 2, silent: true,
    }));
    P.bands.forEach((b: any) => series.push(bandSeries(b[0], b[1], b[2], p)));
    series.push({
      type: 'line', name: LEGEND_NAMES[1], xAxisIndex: p, yAxisIndex: p, data: toData(P.obs),
      symbol: 'circle', symbolSize: 10, showSymbol: true, showAllSymbol: true,
      lineStyle: { color: BLUE, width: 3 }, itemStyle: { color: BLUE }, z: 4, silent: true,
    });
    series.push({
      type: 'line', name: LEGEND_NAMES[2], xAxisIndex: p, yAxisIndex: p, data: toData(P.bau),
      symbol: 'circle', symbolSize: 10, showSymbol: true, showAllSymbol: true,
      lineStyle: { color: GREEN, width: 3 }, itemStyle: { color: GREEN }, z: 5, silent: true,
    });
    series.push({
      type: 'line', name: LEGEND_NAMES[3], xAxisIndex: p, yAxisIndex: p, data: climData(P.clim),
      symbol: 'none', lineStyle: { color: '#000', width: 2 }, itemStyle: { color: '#000' }, z: 6, silent: true,
      markLine: {
        silent: true, symbol: ['none', 'none'], label: { show: false }, animation: false,
        data: EVENT_DAYS.map((d, k) => ({ xAxis: d, lineStyle: { color: '#000', type: k === 0 ? 'solid' : [4, 3], width: k === 0 ? 2 : 1.2 } })),
      },
    });
  });
  const graphic: any[] = [
    { type: 'text', x: 597, y: 20, style: { text: 'Cádiz / background', fontSize: 18, fontFamily: FONT, fill: '#000', align: 'center', verticalAlign: 'middle', textAlign: 'center', textVerticalAlign: 'middle' } },
    { type: 'text', x: 597, y: 405, style: { text: 'traffic', fontSize: 18, fontFamily: FONT, fill: '#000', align: 'center', verticalAlign: 'middle', textAlign: 'center', textVerticalAlign: 'middle' } },
  ];
  GRID_TOPS.forEach((t, p) => graphic.push({
    type: 'text', x: 40, y: t + GRID_H / 2, rotation: Math.PI / 2,
    style: { text: Y_NAMES[p], fontSize: 15, fontFamily: FONT, fill: '#000', lineHeight: 18, align: 'center', verticalAlign: 'middle', textAlign: 'center', textVerticalAlign: 'middle' },
  }));
  return {
    animation: false,
    backgroundColor: '#fff',
    grid, xAxis, yAxis, series, graphic,
    legend: {
      data: [
        { name: LEGEND_NAMES[0], icon: LINE_ICON, itemStyle: { color: GRAY } },
        { name: LEGEND_NAMES[1], lineStyle: { width: 3 } },
        { name: LEGEND_NAMES[2], lineStyle: { width: 3 } },
        { name: LEGEND_NAMES[3], icon: LINE_ICON, itemStyle: { color: '#000' } },
      ],
      left: 432, top: 40, orient: 'horizontal', itemWidth: 30, itemHeight: 10, itemGap: 38,
      textStyle: { fontSize: 12.5, fontFamily: FONT, color: '#000', padding: [0, 0, 0, 6] },
      borderColor: '#cccccc', borderWidth: 1, borderRadius: 4, backgroundColor: 'rgba(255,255,255,0.85)',
      padding: [8, 12, 8, 5], selectedMode: false, z: 10,
    },
  };
}

export default function App() {
  const ref = useRef<HTMLDivElement>(null);
  useEffect(() => {
    if (!ref.current) return;
    const chart = echarts.init(ref.current, null, { renderer: 'svg' });
    chart.setOption(buildOption() as any);
    return () => chart.dispose();
  }, []);
  return <div ref={ref} style={{ position: 'fixed', left: 0, top: 0, width: 1091, height: 789, background: '#fff' }} />;
}
